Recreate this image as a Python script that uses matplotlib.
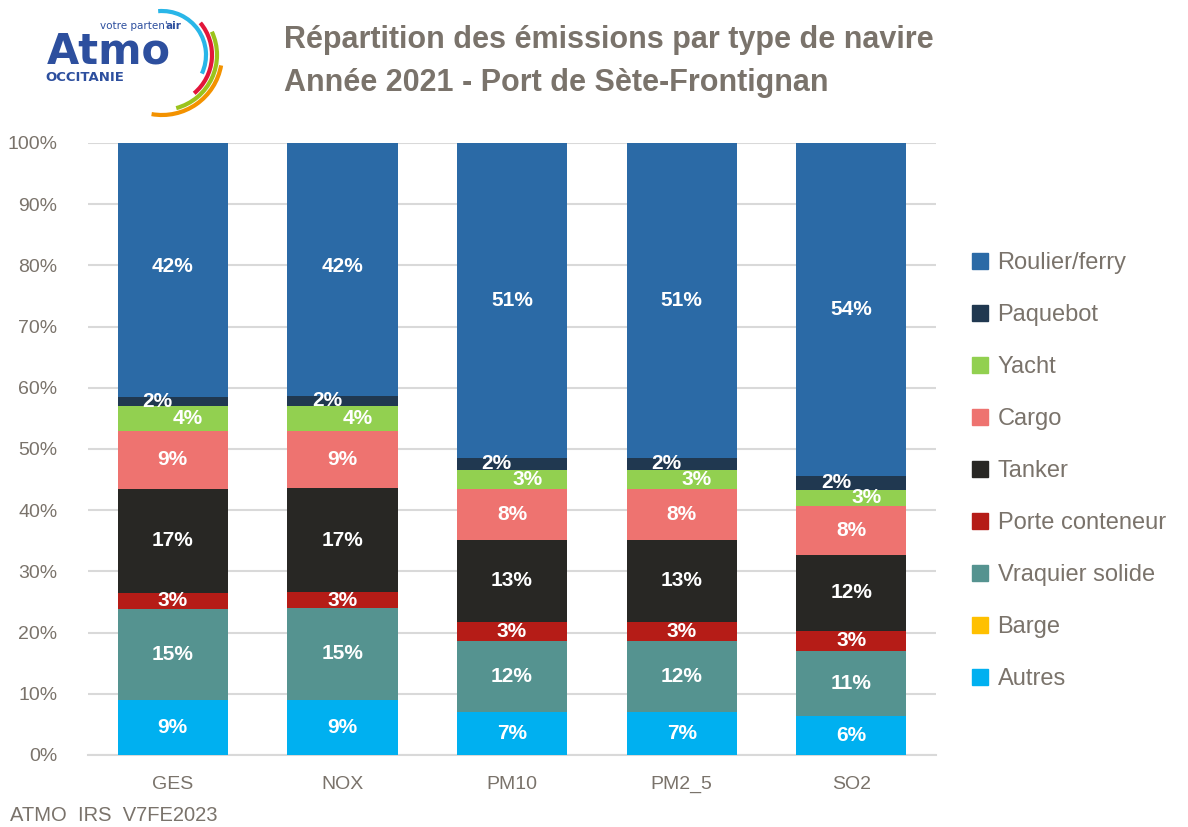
import numpy as np
import matplotlib.pyplot as plt
from matplotlib.patches import Arc, Patch

plt.rcParams['font.family'] = ['Liberation Sans', 'DejaVu Sans']

polluants = ['GES', 'NOX', 'PM10', 'PM2_5', 'SO2']
navires = ['Autres', 'Barge', 'Vraquier solide', 'Porte conteneur', 'Tanker',
           'Cargo', 'Yacht', 'Paquebot', 'Roulier/ferry']
couleurs = ['#00b0f0', '#ffc000', '#559390', '#b51c17', '#282724',
            '#ee7370', '#92d050', '#203850', '#2b6aa6']

# parts en %
autres = [9.0, 9.0, 7.1, 7.1, 6.4]
barge = [0.0, 0.0, 0.0, 0.0, 0.0]
vraquier = [14.9, 15.0, 11.5, 11.5, 10.6]
porte_conteneur = [2.6, 2.6, 3.2, 3.2, 3.3]
tanker = [17.0, 17.0, 13.4, 13.4, 12.4]
cargo = [9.4, 9.4, 8.3, 8.3, 8.0]
yacht = [4.1, 4.1, 3.0, 3.0, 2.6]
paquebot = [1.5, 1.6, 2.1, 2.1, 2.3]
roulier = [42.5, 42.3, 51.4, 51.4, 54.4]
series = [autres, barge, vraquier, porte_conteneur, tanker, cargo, yacht, paquebot, roulier]

gris = '#7a736b'
fig = plt.figure(figsize=(11.88, 8.27), dpi=100)
ax = fig.add_axes([0.074, 0.0871, 0.714, 0.74])

x = np.arange(len(polluants))
bas = np.zeros(len(polluants))
for nom, vals, c in zip(navires, series, couleurs):
    v = np.array(vals) / 100
    ax.bar(x, v, 0.65, bottom=bas, color=c, label=nom, zorder=3)
    for i in range(len(x)):
        if vals[i] <= 0:
            continue
        dx = 0
        if nom == 'Paquebot':
            dx = -0.09
        elif nom == 'Yacht':
            dx = 0.09
        ax.text(x[i] + dx, bas[i] + v[i] / 2, '%d%%' % round(vals[i]),
                ha='center', va='center', color='white', fontsize=15,
                fontweight='bold', zorder=4)
    bas += v

ax.set_xlim(-0.5, 4.5)
ax.set_ylim(0, 1)
ax.set_yticks(np.arange(0, 1.01, 0.1))
ax.set_yticklabels(['%d%%' % (t * 100) for t in np.arange(0, 1.01, 0.1)])
ax.set_xticks(x)
ax.set_xticklabels(polluants)
ax.tick_params(colors=gris, labelsize=14, length=0)
ax.tick_params(axis='y', pad=22)
ax.tick_params(axis='x', pad=15)
ax.grid(axis='y', color='#d9d9d9', lw=1.5, zorder=0)
for s in ['top', 'right', 'left']:
    ax.spines[s].set_visible(False)
ax.spines['bottom'].set_color('#d9d9d9')
ax.spines['bottom'].set_linewidth(1.5)

handles = [Patch(color=c) for c in couleurs][::-1]
fig.legend(handles, navires[::-1], loc='center left', bbox_to_anchor=(0.8, 0.43),
           frameon=False, fontsize=17, labelcolor=gris, handlelength=0.7,
           handleheight=0.7, handletextpad=0.4, labelspacing=1.27)

fig.text(0.239, 0.97, 'Répartition des émissions par type de navire',
         ha='left', va='top', fontsize=22, fontweight='bold', color=gris)
fig.text(0.239, 0.918, 'Année 2021 - Port de Sète-Frontignan',
         ha='left', va='top', fontsize=22, fontweight='bold', color=gris)
fig.text(0.008, 0.003, 'ATMO  IRS  V7FE2023', ha='left', va='bottom',
         fontsize=14.5, color=gris)

# logo
lg = fig.add_axes([0, 0, 1, 1], zorder=-1)
lg.set_xlim(0, 1188)
lg.set_ylim(0, 827)
lg.axis('off')
bleu = '#2d4f9e'
lg.text(47, 827 - 64, 'Atmo', fontsize=30, fontweight='bold', color=bleu,
        family=['DejaVu Sans'], ha='left', va='baseline')
lg.text(100, 827 - 29, "votre parten'", fontsize=7.5, color=bleu,
        family=['DejaVu Sans'], ha='left', va='baseline')
lg.text(166, 827 - 29, 'air', fontsize=7.5, color=bleu, fontweight='bold',
        family=['DejaVu Sans'], ha='left', va='baseline')
lg.text(45, 827 - 81, 'OCCITANIE', fontsize=9.5, fontweight='bold', color=bleu,
        family=['DejaVu Sans'], ha='left', va='baseline')
for r, t1, t2, c in [(44, -25, 95, '#29b6e8'), (50, -50, 40, '#e2163a'),
                     (55, -75, 25, '#9bc31c'), (60, -100, -10, '#f39200')]:
    lg.add_patch(Arc((162, 827 - 55), 2 * r, 2 * r, theta1=t1, theta2=t2,
                     color=c, lw=3))

fig.savefig('out.png', dpi=100)
